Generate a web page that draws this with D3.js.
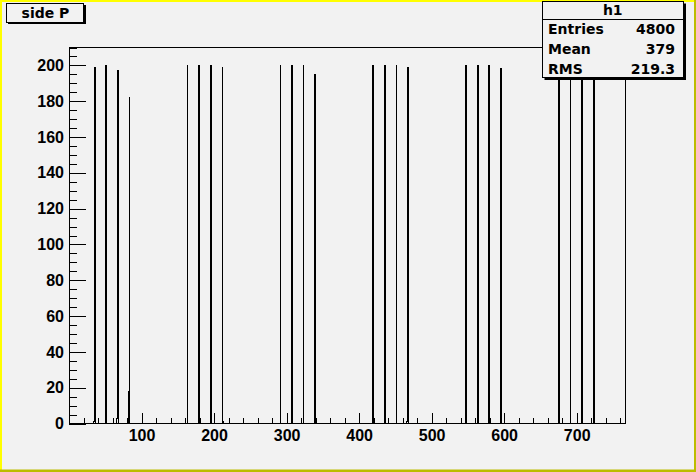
<!DOCTYPE html>
<html><head><meta charset="utf-8">
<script src="https://cdn.jsdelivr.net/npm/d3@7"></script>
<style>html,body{margin:0;padding:0;background:#f2f2f2;}svg{display:block;}</style>
</head><body>
<script>
// ---- data ----
const histTitle = "side P";
const histName = "h1";
const statLabels = ["Entries", "Mean", "RMS"];
const statValues = ["4800", "379", "219.3"];
const nBins = 768;
const xDomain = [0, 768];
const yDomain = [0, 210];
const filledBins = [34, 35, 51, 66, 67, 82, 83, 163, 179, 195, 211, 212, 291, 307, 323, 338, 339, 419, 435, 451, 466, 467, 547, 563, 579, 595, 596, 675, 691, 707, 723];
const filledCounts = [1, 199, 200, 3, 197, 18, 182, 200, 200, 200, 199, 1, 200, 200, 200, 5, 195, 200, 200, 200, 1, 199, 200, 200, 200, 198, 2, 200, 200, 200, 200];
const xMajorTicks = [0, 100, 200, 300, 400, 500, 600, 700];
const yMajorTicks = [0, 20, 40, 60, 80, 100, 120, 140, 160, 180, 200];

const W = 696, H = 472;
const svg = d3.select("body").append("svg").attr("width", W).attr("height", H);
const font = "'Liberation Sans', Arial, Helvetica, sans-serif";

// background & bevel
svg.append("rect").attr("width", W).attr("height", H).attr("fill", "#f2f2f2");
svg.append("rect").attr("x", 0).attr("y", 0).attr("width", W).attr("height", 2).attr("fill", "#ffff00");
svg.append("rect").attr("x", 0).attr("y", 0).attr("width", 2).attr("height", H).attr("fill", "#ffff00");
svg.append("rect").attr("x", W - 2).attr("y", 0).attr("width", 2).attr("height", H).attr("fill", "#bcbc00");
svg.append("rect").attr("x", 0).attr("y", H - 2.5).attr("width", W).attr("height", 2.5).attr("fill", "#bcbc00");

const x = d3.scaleLinear().domain(xDomain).range([69, 626]);
const y = d3.scaleLinear().domain(yDomain).range([423.5, 47.5]);

// frame
svg.append("rect").attr("x", 69.5).attr("y", 47.5).attr("width", 556).attr("height", 376)
  .attr("fill", "none").attr("stroke", "#000").attr("stroke-width", 1).attr("shape-rendering", "crispEdges");

// histogram contents
const counts = new Array(nBins).fill(0);
filledBins.forEach((b, i) => counts[b] = filledCounts[i]);
const binW = (xDomain[1] - xDomain[0]) / nBins;
const pts = [];
counts.forEach((c, i) => {
  const lo = xDomain[0] + i * binW;
  pts.push([lo, c]); pts.push([lo + binW, c]);
});
const line = d3.line().x(d => x(d[0])).y(d => y(d[1]));
svg.append("path").attr("d", line(pts)).attr("fill", "none").attr("stroke", "#000")
  .attr("stroke-width", 1).attr("shape-rendering", "crispEdges");

// x axis
const xMinor = d3.range(0, 768, 20).filter(v => v % 100 !== 0);
const gxm = svg.append("g").attr("transform", "translate(0,423.5)")
  .call(d3.axisBottom(x).tickValues(xMinor).tickSizeInner(-5.5).tickSizeOuter(0).tickFormat(""));
const gx = svg.append("g").attr("transform", "translate(0,423.5)")
  .call(d3.axisBottom(x).tickValues(xMajorTicks).tickSizeInner(-11).tickSizeOuter(0).tickPadding(6)
    .tickFormat(d => d === 0 ? "" : d));
// y axis
const yMinor = d3.range(0, 211, 5).filter(v => v % 20 !== 0);
const gym = svg.append("g").attr("transform", "translate(69,0)")
  .call(d3.axisLeft(y).tickValues(yMinor).tickSizeInner(-8).tickSizeOuter(0).tickFormat(""));
const gy = svg.append("g").attr("transform", "translate(69,0)")
  .call(d3.axisLeft(y).tickValues(yMajorTicks).tickSizeInner(-16.5).tickSizeOuter(0).tickPadding(5));
[gxm, gx, gym, gy].forEach(g => {
  g.select(".domain").remove();
  g.selectAll("line").attr("stroke", "#000").attr("shape-rendering", "crispEdges");
  g.selectAll("text").attr("fill", "#000").attr("font-family", font).attr("font-weight", "bold").attr("font-size", 16);
});

// title box
const tb = svg.append("g");
tb.append("rect").attr("x", 8).attr("y", 5).attr("width", 78).attr("height", 19).attr("fill", "#000");
tb.append("rect").attr("x", 6.5).attr("y", 3.5).attr("width", 77).attr("height", 18.5)
  .attr("fill", "#f2f2f2").attr("stroke", "#000").attr("stroke-width", 1).attr("shape-rendering", "crispEdges");
tb.append("text").attr("x", 45.5).attr("y", 18).attr("text-anchor", "middle")
  .attr("font-family", "'DejaVu Sans', sans-serif").attr("font-weight", "bold").attr("font-size", 14)
  .text(histTitle);

// stats box
const sb = svg.append("g");
const bx = 542.5, by = 1.5, bw = 140.5, bh = 75.5;
sb.append("rect").attr("x", bx + 2).attr("y", by + 2).attr("width", bw + 1).attr("height", bh + 1).attr("fill", "#000");
sb.append("rect").attr("x", bx).attr("y", by).attr("width", bw).attr("height", bh)
  .attr("fill", "#f2f2f2").attr("stroke", "#000").attr("shape-rendering", "crispEdges");
sb.append("line").attr("x1", bx).attr("x2", bx + bw).attr("y1", 19.5).attr("y2", 19.5)
  .attr("stroke", "#000").attr("shape-rendering", "crispEdges");
const sFont = "'DejaVu Sans', sans-serif";
sb.append("text").attr("x", bx + bw / 2).attr("y", 14.5).attr("text-anchor", "middle")
  .attr("font-family", sFont).attr("font-weight", "bold").attr("font-size", 14).text(histName);
statLabels.forEach((l, i) => {
  sb.append("text").attr("x", 548).attr("y", 34 + i * 20).attr("font-family", sFont)
    .attr("font-weight", "bold").attr("font-size", 14).text(l);
  sb.append("text").attr("x", 675).attr("y", 34 + i * 20).attr("text-anchor", "end").attr("font-family", sFont)
    .attr("font-weight", "bold").attr("font-size", 14).text(statValues[i]);
});
</script>
</body></html>
